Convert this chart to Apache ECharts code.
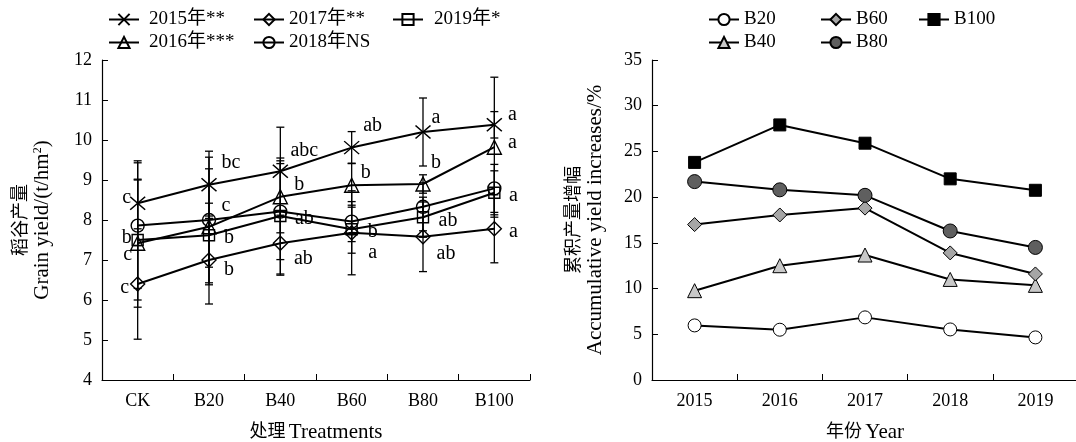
<!DOCTYPE html>
<html>
<head>
<meta charset="utf-8">
<script src="https://cdn.jsdelivr.net/npm/echarts@6/dist/echarts.min.js"></script>
<style>
  html, body { margin: 0; padding: 0; background: #fff; }
  #main { width: 1076px; height: 442px; }
</style>
</head>
<body>
<div id="main"></div>
<script>
// 处理 / 年份
var treatments = ['CK', 'B20', 'B40', 'B60', 'B80', 'B100'];
var years = ['2015', '2016', '2017', '2018', '2019'];

// 稻谷产量 t/hm2
var y2015 = [8.42, 8.88, 9.22, 9.81, 10.2, 10.38];
var y2016 = [7.42, 7.83, 8.58, 8.87, 8.9, 9.82];
var y2017 = [6.4, 7.0, 7.42, 7.68, 7.58, 7.78];
var y2018 = [7.86, 8.0, 8.21, 7.96, 8.33, 8.79];
var y2019 = [7.5, 7.62, 8.1, 7.77, 8.07, 8.68];

// 误差
var e2015 = [1.06, 0.84, 1.1, 0.4, 0.85, 0.33];
var e2016 = [1.6, 1.45, 0.9, 0.55, 0.23, 1.75];
var e2017 = [1.38, 1.1, 0.8, 1.05, 0.87, 0.85];
var e2018 = [1.57, 1.57, 1.2, 0.5, 0.6, 0.6];
var e2019 = [1.5, 0.8, 1.45, 0.6, 0.5, 0.55];

// 显著性字母
var l2015 = ['c', 'bc', 'abc', 'ab', 'a', 'a'];
var l2016 = ['c', 'c', 'b', 'b', 'b', 'a'];
var l2017 = ['c', 'b', 'ab', 'a', 'ab', 'a'];
var l2019 = ['b', 'b', 'ab', 'b', 'ab', 'a'];

// 累积产量增幅 %
var b20 = [5.97, 5.5, 6.85, 5.53, 4.66];
var b40 = [9.77, 12.5, 13.67, 11.0, 10.35];
var b60 = [17.0, 18.05, 18.8, 13.9, 11.6];
var b80 = [21.7, 20.8, 20.2, 16.3, 14.5];
var b100 = [23.8, 27.9, 25.9, 22.0, 20.75];

// 字母相对点的偏移(像素)
var o2015 = [[-11, -5], [22, -22], [24, -20], [21, -22], [13, -14], [18, -10]];
var o2016 = [[-10, 12], [17, -21], [19, -12], [14, -12], [13, -21], [18, -4]];
var o2017 = [[-13, 4], [20, 10], [23, 16], [21, 20], [23, 17], [19, 3]];
var o2019 = [[-11, -2], [20, 3], [24, 3], [21, 3], [25, 4], [19, 3]];

var FONT = "'Liberation Serif', 'Noto Sans CJK SC', serif";
var CROSS = 'path://M0,0L10,10M10,0L0,10';

var myChart = echarts.init(document.getElementById('main'));

function withLetters(vals, letters, offs){
    var out = [];
    for (var i = 0; i < vals.length; i++){
        if (!letters){ out.push(vals[i]); continue; }
        out.push({
            value: vals[i],
            label: { show: true, formatter: letters[i], offset: offs[i] }
        });
    }
    return out;
}

function yieldLine(name, vals, symbol, size, letters, offs){
    return {
        name: name,
        type: 'line',
        xAxisIndex: 0,
        yAxisIndex: 0,
        data: withLetters(vals, letters, offs),
        symbol: symbol,
        symbolSize: size,
        showAllSymbol: true,
        lineStyle: { color: '#000', width: 2 },
        itemStyle: { color: 'rgba(255,255,255,0)', borderColor: '#000', borderWidth: 1.4 },
        label: { show: false, position: 'inside', color: '#000', fontSize: 20, fontFamily: FONT },
        z: 4,
        animation: false
    };
}

function errBars(vals, errs){
    var d = [];
    for (var i = 0; i < vals.length; i++) d.push([i, vals[i], errs[i]]);
    return {
        type: 'custom',
        xAxisIndex: 0,
        yAxisIndex: 0,
        silent: true,
        z: 3,
        data: d,
        encode: { x: 0, y: 1 },
        renderItem: function(params, api){
            var x = api.value(0), v = api.value(1), e = api.value(2);
            var top = api.coord([x, v + e]);
            var bot = api.coord([x, v - e]);
            var w = 4;
            var st = { stroke: '#000', lineWidth: 1.3 };
            return {
                type: 'group',
                children: [
                    { type: 'line', shape: { x1: top[0], y1: top[1], x2: bot[0], y2: bot[1] }, style: st },
                    { type: 'line', shape: { x1: top[0] - w, y1: top[1], x2: top[0] + w, y2: top[1] }, style: st },
                    { type: 'line', shape: { x1: bot[0] - w, y1: bot[1], x2: bot[0] + w, y2: bot[1] }, style: st }
                ]
            };
        },
        animation: false
    };
}

function incLine(name, vals, symbol, size, fill){
    return {
        name: name,
        type: 'line',
        xAxisIndex: 1,
        yAxisIndex: 1,
        data: vals,
        symbol: symbol,
        symbolSize: size,
        showAllSymbol: true,
        lineStyle: { color: '#000', width: 2 },
        itemStyle: { color: fill, borderColor: '#000', borderWidth: 1 },
        z: 4,
        animation: false
    };
}

function oneLegend(name, left, top, pad){
    return {
        data: [name],
        left: left,
        top: top,
        itemWidth: 30,
        itemHeight: 14,
        selectedMode: false,
        textStyle: { fontSize: 19, fontFamily: FONT, color: '#000', padding: [0, 0, 0, pad] }
    };
}

var axisBase = {
    axisLine: { show: true, lineStyle: { color: '#000', width: 1.2 } },
    axisTick: { show: true, inside: true, length: 6, lineStyle: { color: '#000' } },
    axisLabel: { color: '#000', fontSize: 18, fontFamily: FONT },
    splitLine: { show: false }
};

var richName = {
    a: { fontSize: 21, fontFamily: FONT, color: '#000', lineHeight: 21 },
    c: { fontSize: 18, fontFamily: FONT, color: '#000', lineHeight: 21 },
    s: { fontSize: 12, fontFamily: FONT, color: '#000', verticalAlign: 'top', lineHeight: 21, padding: [0, 0, 7, 0] }
};

option = {
    backgroundColor: '#fff',
    animation: false,
    legend: [
        oneLegend('2015年**', 103, 5, 5),
        oneLegend('2017年**', 248, 5, 0),
        oneLegend('2019年*', 387, 5, 6),
        oneLegend('2016年***', 103, 28, 5),
        oneLegend('2018年NS', 248, 28, 0),
        oneLegend('B20', 703, 5, 0),
        oneLegend('B60', 815, 5, 0),
        oneLegend('B100', 913, 5, 0),
        oneLegend('B40', 703, 28, 0),
        oneLegend('B80', 815, 28, 0)
    ],
    grid: [
        { left: 102, right: 546, top: 60, bottom: 62, outerBoundsMode: 'none' },
        { left: 652, right: -2, top: 60, bottom: 62, outerBoundsMode: 'none' }
    ],
    xAxis: [
        echarts.util.merge({
            gridIndex: 0,
            type: 'category',
            data: treatments,
            boundaryGap: true,
            name: '{c|处理} {a|Treatments}',
            nameLocation: 'middle',
            nameGap: 42,
            nameTextStyle: { rich: richName },
            axisLabel: { margin: 12 }
        }, axisBase),
        echarts.util.merge({
            gridIndex: 1,
            type: 'category',
            data: years,
            boundaryGap: true,
            name: '{c|年份} {a|Year}',
            nameLocation: 'middle',
            nameGap: 42,
            nameTextStyle: { rich: richName },
            axisLabel: { margin: 12 }
        }, axisBase)
    ],
    yAxis: [
        echarts.util.merge({
            gridIndex: 0,
            type: 'value',
            min: 4,
            max: 12,
            interval: 1,
            name: '{c|稻谷产量}\n{a|Grain yield/(t/hm}{s|2}{a|)}',
            nameLocation: 'middle',
            nameRotate: 90,
            nameGap: 49,
            nameTextStyle: { rich: richName, align: 'center' },
            axisLabel: { margin: 10 }
        }, axisBase),
        echarts.util.merge({
            gridIndex: 1,
            type: 'value',
            min: 0,
            max: 35,
            interval: 5,
            name: '{c|累积产量增幅}\n{a|Accumulative yield increases/%}',
            nameLocation: 'middle',
            nameRotate: 90,
            nameGap: 46,
            nameTextStyle: { rich: richName, align: 'center' },
            axisLabel: { margin: 10 }
        }, axisBase)
    ],
    series: [
        errBars(y2015, e2015),
        errBars(y2016, e2016),
        errBars(y2017, e2017),
        errBars(y2018, e2018),
        errBars(y2019, e2019),
        yieldLine('2015年**', y2015, CROSS, [15, 13], l2015, o2015),
        yieldLine('2016年***', y2016, 'triangle', 14, l2016, o2016),
        yieldLine('2017年**', y2017, 'diamond', 14, l2017, o2017),
        yieldLine('2018年NS', y2018, 'circle', 13, null, null),
        yieldLine('2019年*', y2019, 'rect', 11, l2019, o2019),
        incLine('B20', b20, 'circle', 13, '#fff'),
        incLine('B40', b40, 'triangle', 14, '#c8c8c8'),
        incLine('B60', b60, 'diamond', 14, '#a6a6a6'),
        incLine('B80', b80, 'circle', 14, '#5f5f5f'),
        incLine('B100', b100, 'rect', 12, '#000')
    ]
};

myChart.setOption(option);
</script>
</body>
</html>
